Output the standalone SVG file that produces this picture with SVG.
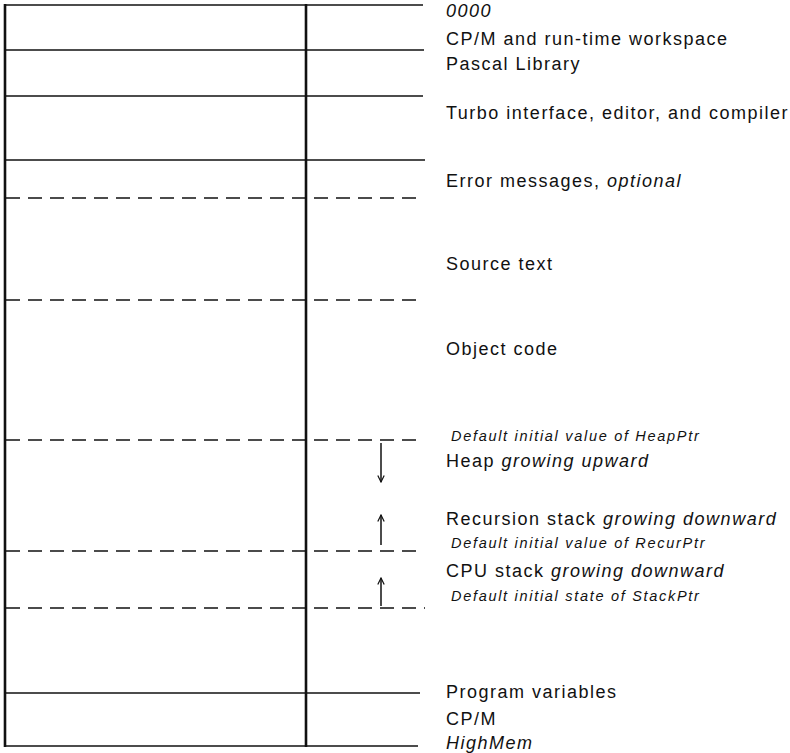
<svg xmlns="http://www.w3.org/2000/svg" width="790" height="753" viewBox="0 0 790 753">
<style>
.t{font-family:"Liberation Sans",Arial,sans-serif;font-size:18px;letter-spacing:1.5px;fill:#111}
.s{font-family:"Liberation Sans",Arial,sans-serif;font-size:14.5px;letter-spacing:1.7px;font-style:italic;fill:#111}
.i{font-style:italic}
.sl{stroke:#111;stroke-width:1.6;fill:none}
.dl{stroke:#111;stroke-width:1.6;fill:none;stroke-dasharray:14 8}
.bx{stroke:#111;stroke-width:2.6;fill:none}
.ar{stroke:#111;stroke-width:1.5;fill:none}
</style>
<defs>
<marker id="ah" viewBox="0 0 10 10" refX="9" refY="5" markerWidth="8" markerHeight="8" orient="auto" markerUnits="userSpaceOnUse">
<path d="M1,1 L9,5 L1,9" fill="none" stroke="#111" stroke-width="1.5"/>
</marker>
</defs>
<g id="memory-box">
<line class="bx" x1="5" y1="4" x2="5" y2="747"/>
<line class="bx" x1="306" y1="4" x2="306" y2="747"/>
</g>
<g id="boundaries">
<line class="sl" x1="5" y1="5" x2="423" y2="5"/>
<line class="sl" x1="5" y1="50" x2="424" y2="50"/>
<line class="sl" x1="5" y1="96" x2="423" y2="96"/>
<line class="sl" x1="5" y1="160" x2="425" y2="160"/>
<line class="dl" x1="6" y1="198" x2="423" y2="198"/>
<line class="dl" x1="6" y1="300" x2="423" y2="300"/>
<line class="dl" x1="6" y1="440" x2="420" y2="440"/>
<line class="dl" x1="6" y1="551" x2="420" y2="551"/>
<line class="dl" x1="6" y1="608" x2="425" y2="608"/>
<line class="sl" x1="5" y1="693" x2="420" y2="693"/>
<line class="sl" x1="5" y1="746" x2="418" y2="746"/>
</g>
<g id="connectors">
<line class="ar" x1="381" y1="443" x2="381" y2="482" marker-end="url(#ah)"/>
<line class="ar" x1="381" y1="545" x2="381" y2="515" marker-end="url(#ah)"/>
<line class="ar" x1="381" y1="606" x2="381" y2="578" marker-end="url(#ah)"/>
</g>
<g id="labels">
<text class="t i" x="446" y="17">0000</text>
<text class="t" x="446" y="45">CP/M and run-time workspace</text>
<text class="t" x="446" y="70">Pascal Library</text>
<text class="t" x="446" y="119">Turbo interface, editor, and compiler</text>
<text class="t" x="446" y="187">Error messages, <tspan class="i">optional</tspan></text>
<text class="t" x="446" y="270">Source text</text>
<text class="t" x="446" y="355">Object code</text>
<text class="s" x="451" y="441">Default initial value of HeapPtr</text>
<text class="t" x="446" y="467">Heap <tspan class="i">growing upward</tspan></text>
<text class="t" x="446" y="525">Recursion stack <tspan class="i">growing downward</tspan></text>
<text class="s" x="451" y="548">Default initial value of RecurPtr</text>
<text class="t" x="446" y="577">CPU stack <tspan class="i">growing downward</tspan></text>
<text class="s" x="451" y="601">Default initial state of StackPtr</text>
<text class="t" x="446" y="698">Program variables</text>
<text class="t" x="446" y="725">CP/M</text>
<text class="t i" x="446" y="749">HighMem</text>
</g>
</svg>
